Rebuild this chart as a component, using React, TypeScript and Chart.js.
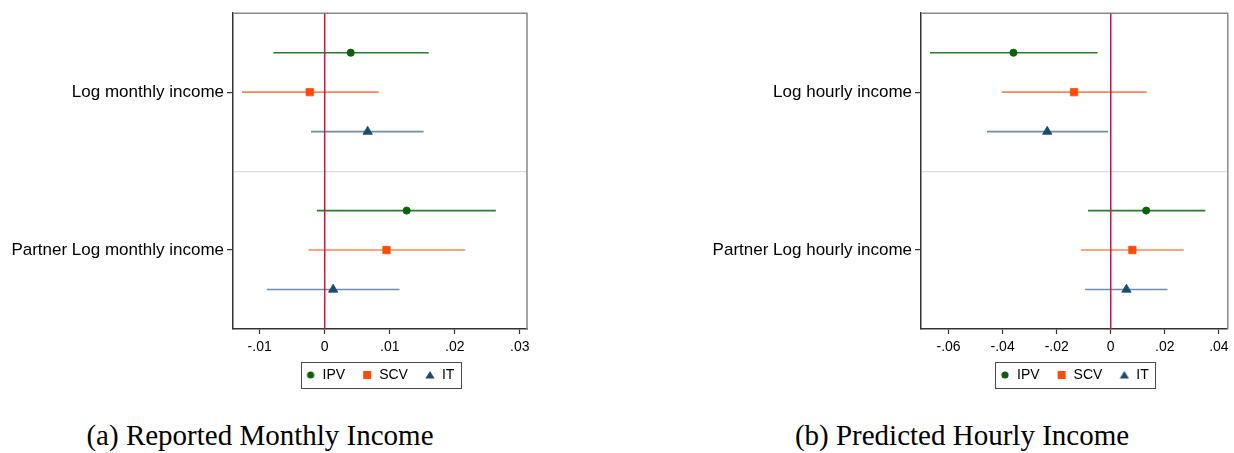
import React, { useEffect, useRef } from "react";
import { Chart, registerables } from "chart.js";

Chart.register(...registerables);

// ---- series meta ----
const SERIES = ["IPV", "SCV", "IT"];
const MARKER_STYLES = ["circle", "rect", "triangle"];
const MARKER_COLORS = ["#0b620b", "#ff4a08", "#1b4a72"];
const CI_COLORS = ["#2b7c2b", "#ff8458", "#6f8dab"];
const ZERO_LINE_COLOR = "#d3103e";

// ---- panel (a): Reported Monthly Income ----
const LEFT_ROWS = ["Log monthly income", "Partner Log monthly income"];
const LEFT_IPV_EST = [0.004, 0.0126];
const LEFT_IPV_LO = [-0.0079, -0.0012];
const LEFT_IPV_HI = [0.016, 0.0263];
const LEFT_SCV_EST = [-0.0023, 0.0095];
const LEFT_SCV_LO = [-0.0127, -0.0025];
const LEFT_SCV_HI = [0.0083, 0.0216];
const LEFT_IT_EST = [0.0066, 0.0013];
const LEFT_IT_LO = [-0.0021, -0.0089];
const LEFT_IT_HI = [0.0152, 0.0115];
const LEFT_X_TICKS = [-0.01, 0, 0.01, 0.02, 0.03];
const LEFT_X_LABELS = ["-.01", "0", ".01", ".02", ".03"];

// ---- panel (b): Predicted Hourly Income ----
const RIGHT_ROWS = ["Log hourly income", "Partner Log hourly income"];
const RIGHT_IPV_EST = [-0.036, 0.0131];
const RIGHT_IPV_LO = [-0.0669, -0.0084];
const RIGHT_IPV_HI = [-0.0049, 0.035];
const RIGHT_SCV_EST = [-0.0136, 0.008];
const RIGHT_SCV_LO = [-0.0403, -0.0111];
const RIGHT_SCV_HI = [0.0133, 0.027];
const RIGHT_IT_EST = [-0.0235, 0.0058];
const RIGHT_IT_LO = [-0.0458, -0.0095];
const RIGHT_IT_HI = [-0.001, 0.021];
const RIGHT_X_TICKS = [-0.06, -0.04, -0.02, 0, 0.02, 0.04];
const RIGHT_X_LABELS = ["-.06", "-.04", "-.02", "0", ".02", ".04"];

const SANS = "'Liberation Sans', Arial, Helvetica, sans-serif";

function makeMarker(style: string, color: string): HTMLCanvasElement {
  const c = document.createElement("canvas");
  c.width = 12;
  c.height = 12;
  const g = c.getContext("2d")!;
  g.fillStyle = color;
  g.beginPath();
  if (style === "circle") g.arc(6, 6, 3.6, 0, Math.PI * 2);
  else if (style === "rect") g.rect(2, 2, 8, 8);
  else {
    g.moveTo(6, 2);
    g.lineTo(10.6, 9.5);
    g.lineTo(1.4, 9.5);
    g.closePath();
  }
  g.fill();
  return c;
}

const framePlugin = {
  id: "frameAndLegendBox",
  beforeDatasetsDraw(chart: any) {
    const { ctx, chartArea: a } = chart;
    ctx.save();
    ctx.strokeStyle = "#8a8a8a";
    ctx.lineWidth = 1.5;
    ctx.beginPath();
    ctx.moveTo(a.left, a.top);
    ctx.lineTo(a.right, a.top);
    ctx.lineTo(a.right, a.bottom);
    ctx.stroke();
    ctx.restore();
  },
  afterDraw(chart: any) {
    const lg = chart.legend;
    if (!lg || !lg.legendHitBoxes || !lg.legendHitBoxes.length) return;
    const hb = lg.legendHitBoxes;
    let minX = Infinity, maxX = -Infinity, minY = Infinity, maxY = -Infinity;
    hb.forEach((h: any) => {
      minX = Math.min(minX, h.left);
      maxX = Math.max(maxX, h.left + h.width);
      minY = Math.min(minY, h.top);
      maxY = Math.max(maxY, h.top + h.height);
    });
    const { ctx } = chart;
    ctx.save();
    ctx.strokeStyle = "#4a4a4a";
    ctx.lineWidth = 1;
    ctx.strokeRect(Math.round(minX - 5) + 0.5, Math.round(minY - 6) + 0.5, Math.round(maxX - minX + 11), Math.round(maxY - minY + 12));
    ctx.restore();
  },
};

type PanelProps = {
  left: number;
  rows: string[];
  est: number[][];
  lo: number[][];
  hi: number[][];
  xTicks: number[];
  xLabels: string[];
  xMin: number;
  xMax: number;
  yAxisWidth: number;
  padRight: number;
};

const W = 617;
const H = 400;

function Panel(p: PanelProps) {
  const ref = useRef<HTMLCanvasElement>(null);
  useEffect(() => {
    if (!ref.current) return;
    const datasets: any[] = [];
    // zero reference line
    datasets.push({
      label: "zero",
      data: [
        { x: 0, y: 0 },
        { x: 0, y: 8 },
      ],
      showLine: true,
      borderColor: ZERO_LINE_COLOR,
      borderWidth: 1.5,
      pointRadius: 0,
      order: 1,
    });
    SERIES.forEach((name, s) => {
      const ci: any[] = [];
      p.est[s].forEach((_, g) => {
        const y = g * 4 + s + 1;
        ci.push({ x: p.lo[s][g], y }, { x: p.hi[s][g], y }, { x: p.hi[s][g], y: null });
      });
      datasets.push({
        label: name + " CI",
        data: ci,
        showLine: true,
        spanGaps: false,
        borderColor: CI_COLORS[s],
        borderWidth: 1.6,
        pointRadius: 0,
        order: 2,
      });
      datasets.push({
        label: name,
        data: p.est[s].map((v, g) => ({ x: v, y: g * 4 + s + 1 })),
        pointStyle: MARKER_STYLES[s],
        pointRadius: s === 0 ? 3.6 : s === 1 ? 5.2 : 5.4,
        pointBackgroundColor: MARKER_COLORS[s],
        pointBorderColor: MARKER_COLORS[s],
        pointBorderWidth: 0.8,
        backgroundColor: MARKER_COLORS[s],
        order: 0,
      });
    });
    const markers = SERIES.map((_, s) => makeMarker(MARKER_STYLES[s], MARKER_COLORS[s]));
    const chart = new Chart(ref.current, {
      type: "scatter",
      data: { datasets },
      plugins: [framePlugin],
      options: {
        animation: false,
        responsive: false,
        events: [],
        layout: { padding: { left: 0, right: p.padRight, top: 12, bottom: 8 } },
        plugins: {
          tooltip: { enabled: false },
          legend: {
            display: true,
            position: "bottom",
            fullSize: false,
            onClick: () => {},
            labels: {
              usePointStyle: true,
              boxWidth: 10,
              boxHeight: 8,
              padding: 17,
              color: "#000",
              font: { family: SANS, size: 14 },
              generateLabels: () =>
                SERIES.map((name, s) => ({
                  text: name,
                  pointStyle: markers[s] as any,
                  fillStyle: MARKER_COLORS[s],
                  strokeStyle: MARKER_COLORS[s],
                  lineWidth: 0,
                  hidden: false,
                  fontColor: "#000",
                  datasetIndex: 2 + s * 2,
                })),
            },
          },
        },
        scales: {
          x: {
            type: "linear",
            min: p.xMin,
            max: p.xMax,
            afterBuildTicks: (sc: any) => {
              sc.ticks = p.xTicks.map((v) => ({ value: v }));
            },
            afterFit: (sc: any) => {
              sc.height = 22;
            },
            ticks: {
              autoSkip: false,
              maxRotation: 0,
              padding: 5,
              color: "#000",
              font: { family: SANS, size: 14 },
              callback: (_v: any, i: number) => p.xLabels[i],
            },
            grid: {
              color: "rgba(0,0,0,0)",
              tickColor: "#333",
              tickLength: 5,
              tickWidth: 1.2,
            },
            border: { color: "#333", width: 1.5 },
          },
          y: {
            type: "linear",
            min: 0,
            max: 8,
            reverse: true,
            afterBuildTicks: (sc: any) => {
              sc.ticks = [2, 4, 6].map((v) => ({ value: v }));
            },
            afterFit: (sc: any) => {
              sc.width = p.yAxisWidth;
            },
            ticks: {
              autoSkip: false,
              padding: 3,
              color: "#000",
              font: { family: SANS, size: 17 },
              callback: (v: any) => (v === 2 ? p.rows[0] : v === 6 ? p.rows[1] : ""),
            },
            grid: {
              color: (ctx: any) => (ctx.tick && ctx.tick.value === 4 ? "#dcdcdc" : "rgba(0,0,0,0)"),
              tickColor: (ctx: any) => (ctx.tick && ctx.tick.value === 4 ? "rgba(0,0,0,0)" : "#333"),
              tickLength: 6,
              lineWidth: 1.2,
            },
            border: { color: "#333", width: 1.5 },
          },
        },
      } as any,
    });
    return () => chart.destroy();
  }, []);
  return (
    <canvas
      ref={ref}
      width={W}
      height={H}
      style={{ position: "absolute", left: p.left, top: 0, width: W, height: H, display: "block" }}
    />
  );
}

const captionStyle: React.CSSProperties = {
  position: "absolute",
  top: 419,
  width: 600,
  textAlign: "center",
  fontFamily: "'Liberation Serif', 'Times New Roman', serif",
  fontSize: 29,
  color: "#000",
  whiteSpace: "nowrap",
};

export default function App() {
  return (
    <div style={{ position: "absolute", left: 0, top: 0, width: 1234, height: 453, background: "#fff", overflow: "hidden" }}>
      <Panel
        left={0}
        rows={LEFT_ROWS}
        est={[LEFT_IPV_EST, LEFT_SCV_EST, LEFT_IT_EST]}
        lo={[LEFT_IPV_LO, LEFT_SCV_LO, LEFT_IT_LO]}
        hi={[LEFT_IPV_HI, LEFT_SCV_HI, LEFT_IT_HI]}
        xTicks={LEFT_X_TICKS}
        xLabels={LEFT_X_LABELS}
        xMin={-0.0141}
        xMax={0.0311}
        yAxisWidth={233}
        padRight={90}
      />
      <Panel
        left={617}
        rows={RIGHT_ROWS}
        est={[RIGHT_IPV_EST, RIGHT_SCV_EST, RIGHT_IT_EST]}
        lo={[RIGHT_IPV_LO, RIGHT_SCV_LO, RIGHT_IT_LO]}
        hi={[RIGHT_IPV_HI, RIGHT_SCV_HI, RIGHT_IT_HI]}
        xTicks={RIGHT_X_TICKS}
        xLabels={RIGHT_X_LABELS}
        xMin={-0.0702}
        xMax={0.0433}
        yAxisWidth={304}
        padRight={4}
      />
      <div style={{ ...captionStyle, left: 260 - 300 }}>(a) Reported Monthly Income</div>
      <div style={{ ...captionStyle, left: 962 - 300 }}>(b) Predicted Hourly Income</div>
    </div>
  );
}
